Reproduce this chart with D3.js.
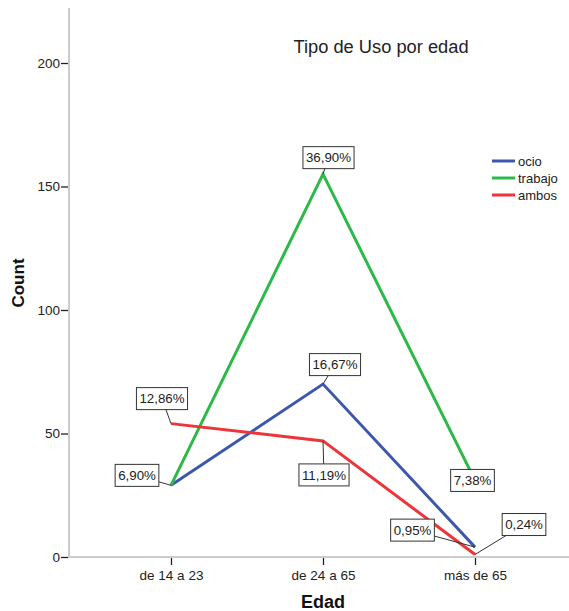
<!DOCTYPE html>
<html>
<head>
<meta charset="utf-8">
<script src="https://cdn.jsdelivr.net/npm/d3@7"></script>
<style>
  html, body { margin: 0; padding: 0; background: #fff; }
  svg { display: block; font-family: "Liberation Sans", Arial, sans-serif; }
</style>
</head>
<body>
<svg id="chart" width="569" height="611"></svg>
<script>
// ---- data ----
const categories = ["de 14 a 23", "de 24 a 65", "más de 65"];
const seriesNames = ["ocio", "trabajo", "ambos"];
const ocio    = [29, 70, 4];
const trabajo = [29, 155, 31];
const ambos   = [54, 47, 1];
const ocioLabels    = ["6,90%", "16,67%", "0,95%"];
const trabajoLabels = [null, "36,90%", "7,38%"];
const ambosLabels   = ["12,86%", "11,19%", "0,24%"];
const yTicks = [0, 50, 100, 150, 200];
const title = "Tipo de Uso por edad";
const xTitle = "Edad";
const yTitle = "Count";

// ---- styles / layout ----
const colors = { ocio: "#3d58ab", trabajo: "#2db84a", ambos: "#ee3339" };
// label box offsets (centre relative to data point), in px
const labelOffsets = {
  ocio:    [[-34, -10], [12, -19.5], [-62.5, -17]],
  trabajo: [null, [5.5, -16.5], [-2.5, 0]],
  ambos:   [[-9, -25], [1, 34], [49, -30]]
};

const svg = d3.select("#chart");

const x = d3.scalePoint().domain(categories).range([69, 577]).padding(0.671);
const y = d3.scaleLinear().domain([0, 200]).range([557, 63]);

const series = [
  { name: "ocio", values: ocio, labels: ocioLabels },
  { name: "trabajo", values: trabajo, labels: trabajoLabels },
  { name: "ambos", values: ambos, labels: ambosLabels }
];

// axes lines
svg.append("line").attr("x1", 69).attr("x2", 69).attr("y1", 8).attr("y2", y(0) + 1)
  .attr("stroke", "#cccccc").attr("stroke-width", 2);
svg.append("line").attr("x1", 68).attr("x2", 569).attr("y1", y(0)).attr("y2", y(0))
  .attr("stroke", "#cccccc").attr("stroke-width", 2);

// y axis ticks
const yAxis = d3.axisLeft(y).tickValues(yTicks).tickSize(7).tickPadding(1).tickFormat(d3.format("d"));
const gy = svg.append("g").attr("transform", "translate(68,0)").call(yAxis);
gy.select(".domain").remove();
gy.selectAll(".tick line").attr("stroke", "#222").attr("stroke-width", 1.3);
gy.selectAll(".tick text").attr("fill", "#222").style("font-size", "13.5px")
  .style("font-family", "'Liberation Sans', Arial, sans-serif");

// x axis ticks
const xAxis = d3.axisBottom(x).tickSize(7).tickPadding(5);
const gx = svg.append("g").attr("transform", `translate(0,${y(0) + 1})`).call(xAxis);
gx.select(".domain").remove();
gx.selectAll(".tick line").attr("stroke", "#222").attr("stroke-width", 1.3);
gx.selectAll(".tick text").attr("fill", "#222").style("font-size", "13.5px")
  .style("font-family", "'Liberation Sans', Arial, sans-serif");

// axis titles
svg.append("text").attr("transform", "translate(24,283) rotate(-90)")
  .attr("text-anchor", "middle").attr("font-weight", "bold").attr("font-size", 17)
  .attr("fill", "#111").text(yTitle);
svg.append("text").attr("x", 323).attr("y", 608)
  .attr("text-anchor", "middle").attr("font-weight", "bold").attr("font-size", 18)
  .attr("fill", "#111").text(xTitle);

// title
svg.append("text").attr("x", 381).attr("y", 53).attr("text-anchor", "middle")
  .attr("font-size", 18.3).attr("fill", "#222").text(title);

// lines
const line = d3.line().x((d, i) => x(categories[i])).y(d => y(d));
series.forEach(s => {
  svg.append("path").datum(s.values).attr("d", line)
    .attr("fill", "none").attr("stroke", colors[s.name]).attr("stroke-width", 3)
    .attr("stroke-linejoin", "miter");
});

// labels: leaders then boxes
const labelData = [];
series.forEach(s => {
  s.values.forEach((v, i) => {
    if (!s.labels[i]) return;
    const off = labelOffsets[s.name][i];
    const px = x(categories[i]), py = y(v);
    labelData.push({ text: s.labels[i], px, py, cx: px + off[0], cy: py + off[1] });
  });
});
svg.append("g").selectAll("line").data(labelData).join("line")
  .attr("x1", d => d.px).attr("y1", d => d.py)
  .attr("x2", d => d.cx).attr("y2", d => d.cy)
  .attr("stroke", "#333").attr("stroke-width", 1);

const lg = svg.append("g").selectAll("g").data(labelData).join("g")
  .attr("transform", d => `translate(${d.cx},${d.cy})`);
lg.append("text").attr("text-anchor", "middle").attr("dy", "0.36em")
  .attr("font-size", 13.3).attr("fill", "#222").text(d => d.text)
  .each(function (d) { d.w = this.getComputedTextLength(); });
lg.insert("rect", "text")
  .attr("x", d => -d.w / 2 - 3).attr("y", -11)
  .attr("width", d => d.w + 6).attr("height", 22)
  .attr("fill", "#fff").attr("stroke", "#333").attr("stroke-width", 1);

// legend
const legend = svg.append("g").attr("transform", "translate(492,161)");
seriesNames.forEach((n, i) => {
  const g = legend.append("g").attr("transform", `translate(0,${i * 17})`);
  g.append("line").attr("x1", 0).attr("x2", 23).attr("y1", 0).attr("y2", 0)
    .attr("stroke", colors[n]).attr("stroke-width", 3);
  g.append("text").attr("x", 26).attr("y", 0).attr("dy", "0.36em")
    .attr("font-size", 13).attr("fill", "#222").text(n);
});
</script>
</body>
</html>
